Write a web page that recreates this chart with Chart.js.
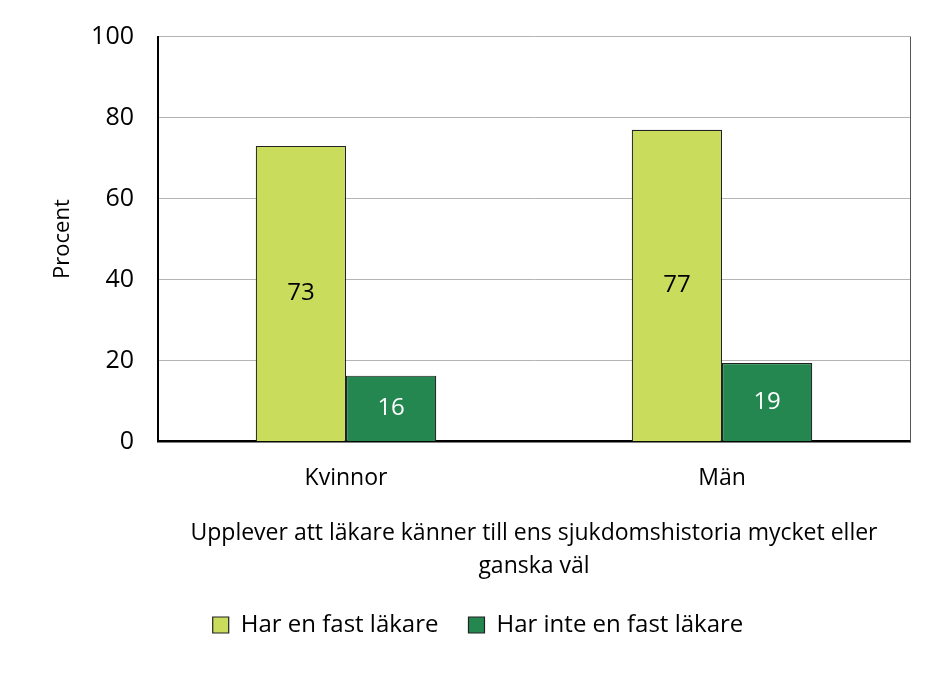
<!DOCTYPE html>
<html>
<head>
<meta charset="utf-8">
<script src="https://cdn.jsdelivr.net/npm/chart.js@4.4.1/dist/chart.umd.min.js"></script>
<style>
  html, body { margin: 0; padding: 0; background: #fff; }
  #wrap { width: 946px; height: 673px; }
</style>
</head>
<body>
<div id="wrap"><canvas id="chart"></canvas></div>
<script>
const categories = ['Kvinnor', 'Män'];
const seriesNames = ['Har en fast läkare', 'Har inte en fast läkare'];
const harFast = [73, 77];
const harInteFast = [16.3, 19.4];
const yTicks = [0, 20, 40, 60, 80, 100];
const xTitle = ['Upplever att läkare känner till ens sjukdomshistoria mycket eller', 'ganska väl'];

const FONT = '"Open Sans", Lato, sans-serif';

// values written in the middle of each bar
const barLabels = {
  id: 'barLabels',
  afterDatasetsDraw(chart) {
    const ctx = chart.ctx;
    ctx.save();
    ctx.font = '24px ' + FONT;
    ctx.textAlign = 'center';
    ctx.textBaseline = 'middle';
    chart.data.datasets.forEach((ds, i) => {
      chart.getDatasetMeta(i).data.forEach((bar, j) => {
        ctx.fillStyle = i === 0 ? '#000' : '#fff';
        ctx.fillText(Math.round(ds.data[j]), bar.x, (bar.y + bar.base) / 2);
      });
    });
    ctx.restore();
  }
};

// thin frame on the right side of the plot
const frame = {
  id: 'frame',
  beforeDatasetsDraw(chart) {
    const a = chart.chartArea, ctx = chart.ctx;
    ctx.save();
    ctx.strokeStyle = '#555';
    ctx.lineWidth = 1;
    ctx.beginPath();
    ctx.moveTo(a.right + 0.5, a.top);
    ctx.lineTo(a.right + 0.5, a.bottom);
    ctx.stroke();
    ctx.restore();
  }
};

new Chart(document.getElementById('chart'), {
  type: 'bar',
  data: {
    labels: categories,
    datasets: [{
      label: seriesNames[0],
      data: harFast,
      backgroundColor: '#c9dc5c',
      borderColor: '#222',
      borderWidth: 1.2
    }, {
      label: seriesNames[1],
      data: harInteFast,
      backgroundColor: '#248750',
      borderColor: '#222',
      borderWidth: 1.2
    }]
  },
  options: {
    responsive: true,
    maintainAspectRatio: false,
    animation: false,
    datasets: { bar: { categoryPercentage: 0.48, barPercentage: 1 } },
    layout: { padding: { top: 36, right: 36, left: 46, bottom: 26 } },
    plugins: {
      tooltip: { enabled: false },
      legend: {
        position: 'bottom',
        labels: {
          color: '#000',
          font: { family: FONT, size: 24 },
          boxWidth: 16,
          boxHeight: 16,
          padding: 30
        }
      }
    },
    scales: {
      y: {
        min: 0,
        max: 100,
        afterBuildTicks: axis => { axis.ticks = yTicks.map(v => ({ value: v })); },
        ticks: { color: '#000', font: { family: FONT, size: 25, lineHeight: 1 }, padding: 24 },
        grid: { color: '#b4b4b4', lineWidth: 1, drawTicks: false },
        border: { color: '#000', width: 2 },
        title: {
          display: true,
          text: 'Procent',
          color: '#000',
          font: { family: FONT, size: 22 },
          padding: { bottom: 8 }
        },
        afterFit: axis => { axis.width = 112; }
      },
      x: {
        ticks: { color: '#000', font: { family: FONT, size: 23 }, padding: 15 },
        grid: { display: false },
        border: { color: '#000', width: 2.5 },
        title: {
          display: true,
          text: xTitle,
          color: '#000',
          font: { family: FONT, size: 23, lineHeight: 1.45 },
          padding: { top: 9, bottom: 0 }
        }
      }
    }
  },
  plugins: [barLabels, frame]
});
</script>
</body>
</html>
